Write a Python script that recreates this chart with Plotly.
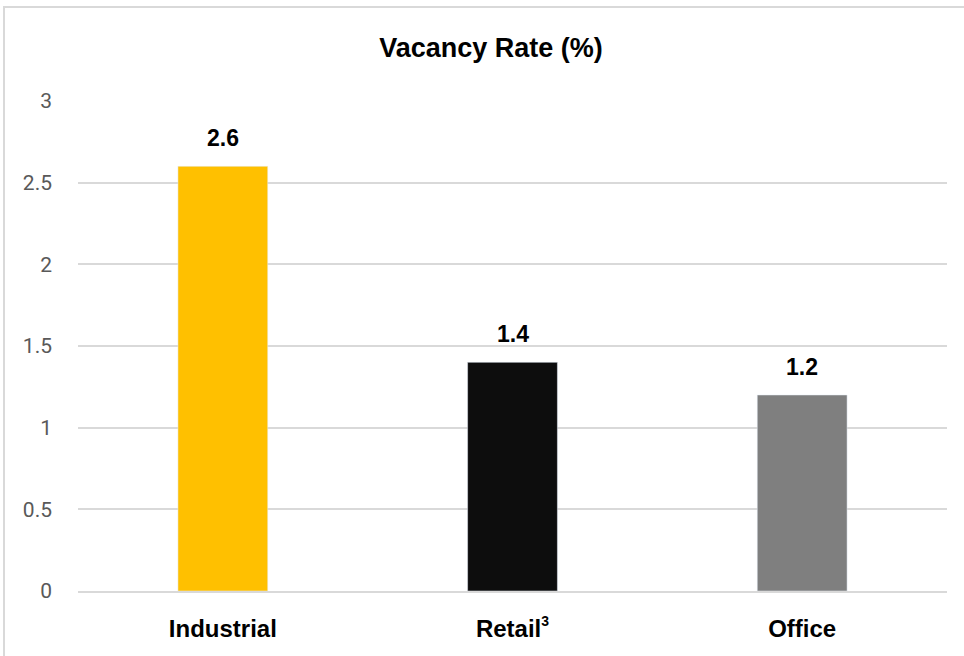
import plotly.graph_objects as go

categories = ["Industrial", "Retail<sup>3</sup>", "Office"]
values = [2.6, 1.4, 1.2]
colors = ["#FFC000", "#0D0D0D", "#7F7F7F"]
tick_vals = [0, 0.5, 1, 1.5, 2, 2.5, 3]
tick_text = ["0", "0.5", "1", "1.5", "2", "2.5", "3"]
cat_labels = ["<b>Industrial</b>", "<b>Retail<sup><span style='font-size:14px'>3</span></sup></b>", "<b>Office</b>"]

W, H = 964, 656
ml, mr, mt, mb = 78, 17, 101, 65
pw = W - ml - mr
ph = H - mt - mb

fig = go.Figure(go.Bar(
    x=categories, y=values, marker_color=colors, width=0.31,
    hoverinfo="x+y",
))

for c, v in zip(categories, values):
    fig.add_annotation(x=c, y=v, text=f"<b>{v:.1f}</b>", showarrow=False,
                       yanchor="bottom", yshift=13,
                       font=dict(family="Liberation Sans, Arial, sans-serif", size=23, color="#000000"))

fig.update_layout(
    width=W, height=H,
    margin=dict(l=ml, r=mr, t=mt, b=mb),
    paper_bgcolor="white", plot_bgcolor="white",
    title=dict(text="<b>Vacancy Rate (%)</b>", x=491 / W, xanchor="center",
               y=1 - 48 / H, yanchor="middle",
               font=dict(family="Liberation Sans, Arial, sans-serif", size=27, color="#000000")),
    showlegend=False,
    bargap=0.69,
    xaxis=dict(showgrid=False, showline=True, linecolor="#D9D9D9", linewidth=1.5,
               ticks="", tickvals=categories, ticktext=cat_labels,
               tickfont=dict(family="Liberation Sans, Arial, sans-serif", size=24, color="#000000"),
               ticklabelstandoff=15),
    yaxis=dict(range=[0, 3], tickvals=tick_vals, ticktext=tick_text,
               showgrid=True, gridcolor="#D9D9D9", gridwidth=1.5, zeroline=False,
               ticks="", ticklabelstandoff=25,
               tickfont=dict(family="Roboto, sans-serif", size=21, color="#595959")),
    shapes=[dict(type="rect", xref="paper", yref="paper",
                 x0=(4 - ml) / pw, x1=(1000 - ml) / pw,
                 y0=(H - mb - 700) / ph, y1=(H - mb - 7) / ph,
                 line=dict(color="#D9D9D9", width=2), fillcolor="rgba(0,0,0,0)", layer="below")],
    font=dict(family="Roboto, sans-serif"),
)

fig.write_html("out.html", config={"displayModeBar": False},
               post_script="document.body.style.margin='0';document.body.style.overflow='hidden';")
